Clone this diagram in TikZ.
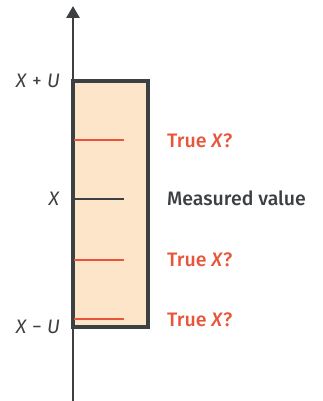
\documentclass[tikz,border=0pt]{standalone}
\usepackage{fontspec}
\setmainfont{Fira Sans}
\newfontfamily\medfont{Fira Sans Medium}
\usetikzlibrary{arrows.meta}
\definecolor{axisgray}{HTML}{3D4043}
\definecolor{truered}{HTML}{E8553A}
\definecolor{boxfill}{HTML}{FCE5C8}
\begin{document}
\begin{tikzpicture}[x=1pt,y=1pt,
  leftlab/.style={anchor=east,inner sep=0pt,text=axisgray,font=\fontsize{19.5}{22}\selectfont,text height=13.5pt,text depth=0pt},
  rightlab/.style={anchor=west,inner sep=0pt,font=\medfont\fontsize{19.5}{22}\selectfont,text height=13.5pt,text depth=0pt},
  tick/.style={line width=2.6pt}]
\useasboundingbox (0,0) rectangle (323,401);
\coordinate (bot) at (73,0);
\coordinate (top) at (73,395);
\draw[line width=3.2pt,draw=axisgray,fill=boxfill] (73,74) rectangle (148,320);
\draw[line width=2.8pt,axisgray,-{Triangle[length=12pt,width=13pt]}] (bot) -- (top);
\coordinate (t1a) at (74,261); \coordinate (t1b) at (124,261);
\coordinate (t2a) at (74,202); \coordinate (t2b) at (124,202);
\coordinate (t3a) at (74,141); \coordinate (t3b) at (124,141);
\coordinate (t4a) at (74,82); \coordinate (t4b) at (124,82);
\draw[tick,truered] (t1a) -- (t1b);
\draw[tick,axisgray] (t2a) -- (t2b);
\draw[tick,truered] (t3a) -- (t3b);
\draw[tick,truered] (t4a) -- (t4b);
\node[leftlab] (lu) at (60,320) {\textit{X} + \textit{U}};
\node[leftlab] (lx) at (60,202) {\textit{X}};
\node[leftlab] (ll) at (60,74) {\textit{X} − \textit{U}};
\node[rightlab,text=truered] (r1) at (167,260) {True \textit{X}?};
\node[rightlab,text=axisgray] (r2) at (167,202) {Measured value};
\node[rightlab,text=truered] (r3) at (167,141) {True \textit{X}?};
\node[rightlab,text=truered] (r4) at (167,81) {True \textit{X}?};
\end{tikzpicture}
\end{document}
